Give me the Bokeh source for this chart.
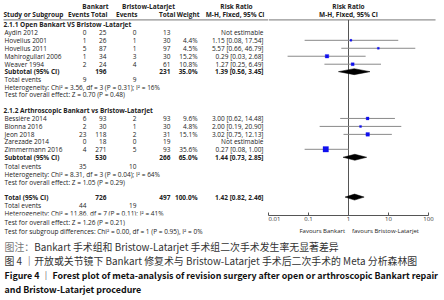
from bokeh.plotting import figure
from bokeh.layouts import column, row
from bokeh.models import Range1d, ColumnDataSource, FixedTicker, CustomJSTickFormatter, Title
from bokeh.core.properties import value
from bokeh.embed import file_html
from bokeh.resources import INLINE

# ---------------- data ----------------
g1_title = "2.1.1 Open Bankart VS Bristow -Latarjet"
g1_studies = ["Aydin 2012", "Hovelius 2001", "Hovelius 2011", "Mahirogullari 2006", "Weaver 1994"]
g1_bank_events = [0, 1, 5, 1, 2]
g1_bank_total = [25, 26, 87, 34, 24]
g1_bris_events = [0, 1, 1, 3, 4]
g1_bris_total = [13, 30, 97, 30, 61]
g1_weight = [None, 4.4, 4.5, 15.2, 10.8]
g1_rr = [None, 1.15, 5.57, 0.29, 1.27]
g1_lo = [None, 0.08, 0.66, 0.03, 0.25]
g1_hi = [None, 17.54, 46.79, 2.68, 6.49]
g1_sub_totals = [196, 231]
g1_sub_weight = 35.0
g1_sub_ci = [1.39, 0.56, 3.45]
g1_events = [9, 9]
g1_het = "Heterogeneity: Chi² = 3.56, df = 3 (P = 0.31); I² = 16%"
g1_test = "Test for overall effect: Z = 0.70 (P = 0.48)"

g2_title = "2.1.2 Arthroscopic Bankart vs Bristow-Latarjet"
g2_studies = ["Bessière 2014", "Blonna 2016", "Jeon 2018", "Zarezade 2014", "Zimmermann 2016"]
g2_bank_events = [6, 2, 23, 0, 4]
g2_bank_total = [93, 30, 118, 18, 271]
g2_bris_events = [2, 1, 2, 0, 5]
g2_bris_total = [93, 30, 31, 19, 93]
g2_weight = [9.6, 4.8, 15.1, None, 35.6]
g2_rr = [3.00, 2.00, 3.02, None, 0.27]
g2_lo = [0.62, 0.19, 0.75, None, 0.08]
g2_hi = [14.48, 20.90, 12.13, None, 1.00]
g2_sub_totals = [530, 266]
g2_sub_weight = 65.0
g2_sub_ci = [1.44, 0.73, 2.85]
g2_events = [35, 10]
g2_het = "Heterogeneity: Chi² = 8.31, df = 3 (P = 0.04); I² = 64%"
g2_test = "Test for overall effect: Z = 1.05 (P = 0.29)"

tot_totals = [726, 497]
tot_weight = 100.0
tot_ci = [1.42, 0.82, 2.46]
tot_events = [44, 19]
tot_het = "Heterogeneity: Chi² = 11.86, df = 7 (P = 0.11); I² = 41%"
tot_test = "Test for overall effect: Z = 1.26 (P = 0.21)"
tot_sub = "Test for subgroup differences: Chi² = 0.00, df = 1 (P = 0.95), I² = 0%"

axis_ticks = [0.01, 0.1, 1, 10, 100]
favours_left = "Favours Bankart"
favours_right = "favours Bristow-Latarjet"

caption_note_head = "图注："
caption_note = "Bankart 手术组和 Bristow-Latarjet 手术组二次手术发生率无显著差异"
caption_cn = "图 4 ｜开放或关节镜下 Bankart 修复术与 Bristow-Latarjet 手术后二次手术的 Meta 分析森林图"
caption_en1 = "Figure 4 ｜ Forest plot of meta-analysis of revision surgery after open or arthroscopic Bankart repair"
caption_en2 = "and Bristow-Latarjet procedure"

# ---------------- layout ----------------
FONT = "Open Sans"
FS = "6.5px"
TXT = "#222222"
X_NAME, X_BEV, X_BTOT, X_REV, X_RTOT, X_W, X_CI = 4, 86, 106, 136, 170, 197, 263

Y_H1, Y_H2, Y_LINE = 6, 14.5, 19.5
g1_y = dict(title=24, studies=[32, 40, 48, 56, 64], sub=71.5, ev=79.5, het=87, test=94.5)
g2_y = dict(title=110.5, studies=[118.5, 126.5, 134.5, 142, 149.5], sub=157.5, ev=166.5, het=174.5, test=182.5)
tot_y = dict(sub=197.5, ev=206, het=214, subg=231)
Y_FAV = 230.5
AXIS_Y = 216
BOTTOM = 10
TOP_H = AXIS_Y + BOTTOM
X_SPLIT = 268
DECADE = 40  # px per decade on the forest axis


def put(p, xs, ys, texts, align="left", bold=False, size=FS, color=TXT, font=FONT):
    src = ColumnDataSource(dict(x=xs, y=ys, t=texts))
    p.text(x="x", y="y", text="t", source=src, text_align=align, text_baseline="middle",
           text_font=value(font), text_font_size=value(size),
           text_font_style="bold" if bold else "normal", text_color=color)


def ci_txt(rr, lo, hi):
    return f"{rr:.2f} [{lo:.2f}, {hi:.2f}]"


tbl = figure(width=X_SPLIT, height=TOP_H, x_range=Range1d(0, X_SPLIT), y_range=Range1d(AXIS_Y, 0),
             output_backend="svg", toolbar_location=None,
             min_border_left=0, min_border_right=0, min_border_top=0, min_border_bottom=BOTTOM,
             x_axis_location=None, y_axis_location=None)
tbl.grid.visible = False
tbl.outline_line_color = None

FP_W = 444 - X_SPLIT
fp = figure(width=FP_W, height=TOP_H, x_axis_type="log",
            x_range=Range1d(0.01, 10 ** (-2 + FP_W / DECADE)),
            y_range=Range1d(AXIS_Y, 0), output_backend="svg", toolbar_location=None,
            min_border_left=0, min_border_right=0, min_border_top=0, min_border_bottom=BOTTOM,
            y_axis_location=None)
fp.grid.visible = False
fp.outline_line_color = None

# headers
put(tbl, [95, 148, 236], [Y_H1] * 3, ["Bankart", "Bristow-Latarjet", "Risk Ratio"], align="center", bold=True)
put(tbl, [3], [Y_H2], ["Study or Subgroup"], bold=True)
put(tbl, [X_BEV + 3, X_BTOT + 1, X_REV + 1, X_RTOT + 5, X_W + 2, X_CI + 1], [Y_H2] * 6,
    ["Events", "Total", "Events", "Total", "Weight", "M-H, Fixed, 95% CI"], align="right", bold=True)
tbl.segment(x0=[3], y0=[Y_LINE], x1=[X_SPLIT], y1=[Y_LINE], line_color="#777777", line_width=1)

fp.text(x=[1, 1], y=[Y_H1, Y_H2], text=["Risk Ratio", "M-H, Fixed, 95% CI"], text_align="center",
        text_baseline="middle", text_font=value(FONT), text_font_size=value(FS),
        text_font_style="bold", text_color=TXT)
fp.segment(x0=[0.01], y0=[Y_LINE], x1=[150], y1=[Y_LINE], line_color="#777777", line_width=1)
fp.segment(x0=[1], y0=[Y_LINE], x1=[1], y1=[AXIS_Y], line_color="#555555", line_width=1)


def diamond(y, ci):
    rr, lo, hi = ci
    fp.patch(x=[lo, rr, hi, rr], y=[y, y - 3, y, y + 3], fill_color="black", line_color="black", line_width=0.5)


def group(title, studies, bev, btot, rev, rtot, w, rr, lo, hi, subt, subw, subci, evs, het, test, ys):
    put(tbl, [X_NAME - 1], [ys["title"]], [title], bold=True)
    sy = ys["studies"]
    put(tbl, [X_NAME] * len(studies), sy, studies)
    put(tbl, [X_BEV] * len(sy), sy, [str(v) for v in bev], align="right")
    put(tbl, [X_BTOT] * len(sy), sy, [str(v) for v in btot], align="right")
    put(tbl, [X_REV] * len(sy), sy, [str(v) for v in rev], align="right")
    put(tbl, [X_RTOT] * len(sy), sy, [str(v) for v in rtot], align="right")
    put(tbl, [X_W] * len(sy), sy, ["" if v is None else f"{v:.1f}%" for v in w], align="right")
    put(tbl, [X_CI] * len(sy), sy,
        ["Not estimable" if r is None else ci_txt(r, l, h) for r, l, h in zip(rr, lo, hi)], align="right")
    put(tbl, [X_NAME], [ys["sub"]], ["Subtotal (95% CI)"], bold=True)
    put(tbl, [X_BTOT, X_RTOT, X_W, X_CI], [ys["sub"]] * 4,
        [str(subt[0]), str(subt[1]), f"{subw:.1f}%", ci_txt(*subci)], align="right", bold=True)
    put(tbl, [X_NAME], [ys["ev"]], ["Total events"])
    put(tbl, [X_BEV, X_REV], [ys["ev"]] * 2, [str(evs[0]), str(evs[1])], align="right")
    put(tbl, [X_NAME, X_NAME], [ys["het"], ys["test"]], [het, test])
    idx = [i for i, r in enumerate(rr) if r is not None]
    fp.segment(x0=[lo[i] for i in idx], y0=[sy[i] for i in idx], x1=[hi[i] for i in idx],
               y1=[sy[i] for i in idx], line_color="#8a8a8a", line_width=1)
    fp.scatter(x=[rr[i] for i in idx], y=[sy[i] for i in idx], marker="square",
               size=[0.92 * w[i] ** 0.5 for i in idx], fill_color="#1010ee", line_color="#1010ee", line_width=0.3)
    diamond(ys["sub"], subci)


group(g1_title, g1_studies, g1_bank_events, g1_bank_total, g1_bris_events, g1_bris_total, g1_weight,
      g1_rr, g1_lo, g1_hi, g1_sub_totals, g1_sub_weight, g1_sub_ci, g1_events, g1_het, g1_test, g1_y)
group(g2_title, g2_studies, g2_bank_events, g2_bank_total, g2_bris_events, g2_bris_total, g2_weight,
      g2_rr, g2_lo, g2_hi, g2_sub_totals, g2_sub_weight, g2_sub_ci, g2_events, g2_het, g2_test, g2_y)

# overall
put(tbl, [X_NAME], [tot_y["sub"]], ["Total (95% CI)"], bold=True)
put(tbl, [X_BTOT, X_RTOT, X_W, X_CI], [tot_y["sub"]] * 4,
    [str(tot_totals[0]), str(tot_totals[1]), f"{tot_weight:.1f}%", ci_txt(*tot_ci)], align="right", bold=True)
put(tbl, [X_NAME], [tot_y["ev"]], ["Total events"])
put(tbl, [X_BEV, X_REV], [tot_y["ev"]] * 2, [str(tot_events[0]), str(tot_events[1])], align="right")
put(tbl, [X_NAME], [tot_y["het"]], [tot_het])
diamond(tot_y["sub"], tot_ci)

# the line just under the table frame
tbl.add_layout(Title(text=tot_test, align="left", offset=X_NAME, standoff=0, text_font=FONT,
                     text_font_size=FS, text_font_style="normal", text_color=TXT), "below")

# axis (only the axis in the forest panel's bottom border)
ax = fp.xaxis[0]
ax.ticker = FixedTicker(ticks=axis_ticks)
ax.formatter = CustomJSTickFormatter(code="return String(tick);")
ax.bounds = (0.01, 100)
ax.major_tick_in = 3
ax.major_tick_out = 0
ax.minor_tick_in = 0
ax.minor_tick_out = 0
ax.axis_line_color = "#555555"
ax.major_tick_line_color = "#555555"
ax.major_label_text_font = FONT
ax.major_label_text_font_size = "6px"
ax.major_label_text_color = "#333333"
ax.major_label_standoff = 1

# lower figure: last table line, favours labels (in the log scale of the forest axis) and captions
cap = figure(width=444, height=300 - TOP_H, x_range=Range1d(0, 444), y_range=Range1d(300, TOP_H),
             extra_x_ranges={"rr": Range1d(10 ** (-2 - X_SPLIT / DECADE), 10 ** (-2 + FP_W / DECADE))},
             extra_x_scales={"rr": fp.x_scale.clone()},
             output_backend="svg", toolbar_location=None, min_border=0,
             x_axis_location=None, y_axis_location=None)
cap.grid.visible = False
cap.outline_line_color = None
put(cap, [X_NAME], [tot_y["subg"]], [tot_sub])
cap.text(x=[0.82], y=[Y_FAV], text=[favours_left], x_range_name="rr", text_align="right",
         text_baseline="middle", text_font=value(FONT), text_font_size=value("6px"), text_color=TXT)
cap.text(x=[1.22], y=[Y_FAV], text=[favours_right], x_range_name="rr", text_align="left",
         text_baseline="middle", text_font=value(FONT), text_font_size=value("6px"), text_color=TXT)
CJK = "Noto Sans CJK SC"
CS = 9.9
put(cap, [4], [246], [caption_note_head], size=f"{CS}px", color="#777777", font=CJK)
put(cap, [4 + 3 * CS], [246], [caption_note], size=f"{CS}px", color="#333333", font=CJK)
put(cap, [4], [260.5], [caption_cn], size=f"{CS}px", color="#333333", font=CJK)
put(cap, [4, 4], [274.5, 288.5], [caption_en1, caption_en2], size="8.9px", color="#111111", font=CJK, bold=True)

layout = column(row(tbl, fp), cap)
open("out.html", "w").write(file_html(layout, INLINE))
